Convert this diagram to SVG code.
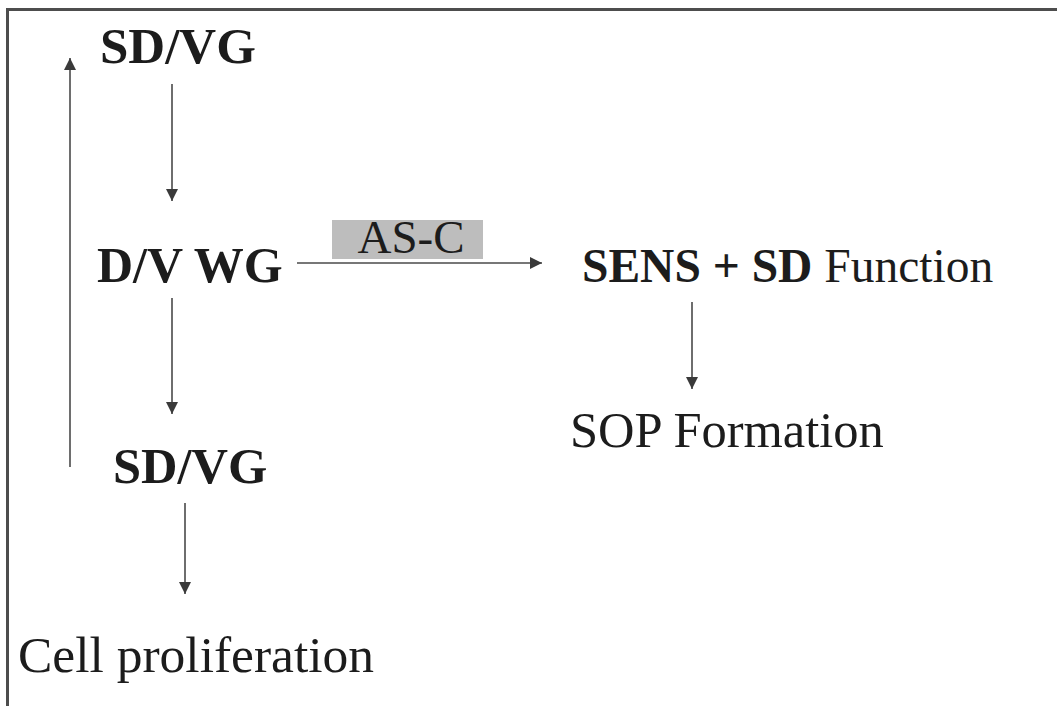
<svg xmlns="http://www.w3.org/2000/svg" width="1057" height="706" viewBox="0 0 1057 706">
  <style>
    .b { font-weight: bold; }
    .ink { fill: #1c1c1c; }
    .edge { stroke: #4a4a4a; stroke-width: 1.6; fill: none; }
    .frame { stroke: #4d4d4d; stroke-width: 3; fill: none; }
  </style>
  <defs>
    <marker id="ah" viewBox="0 0 12 16" refX="12" refY="8" markerWidth="12" markerHeight="16" markerUnits="userSpaceOnUse" orient="auto">
      <path d="M0,2 L12,8 L0,14 z" fill="#3a3a3a"/>
    </marker>
  </defs>

  <rect width="1057" height="706" fill="#ffffff"/>

  <!-- outer frame: top and left edges -->
  <path class="frame" d="M7.5,706 L7.5,9.5 L1057,9.5"/>

  <!-- connectors -->
  <g id="connectors">
    <line class="edge" x1="70" y1="467" x2="70" y2="58" marker-end="url(#ah)"/>
    <line class="edge" x1="172" y1="84" x2="172" y2="201" marker-end="url(#ah)"/>
    <line class="edge" x1="172" y1="298" x2="172" y2="414" marker-end="url(#ah)"/>
    <line class="edge" x1="185" y1="503" x2="185" y2="594" marker-end="url(#ah)"/>
    <line class="edge" x1="692" y1="302" x2="692" y2="389" marker-end="url(#ah)"/>
    <rect id="asc-box" x="332" y="220" width="151" height="39" fill="#bdbdbd"/>
    <line class="edge" x1="297" y1="263" x2="542" y2="263" marker-end="url(#ah)"/>
    <text class="ink" x="411" y="253" font-size="47" text-anchor="middle" font-family="Liberation Serif">AS-C</text>
  </g>

  <g id="sdvg-top">
    <text class="ink b" x="100" y="63" font-size="51" font-family="Liberation Serif">SD/VG</text>
  </g>
  <g id="dv-wg">
    <text class="ink b" x="97" y="282" font-size="50" font-family="Liberation Serif">D/V WG</text>
  </g>
  <g id="sdvg-bottom">
    <text class="ink b" x="113" y="483" font-size="50.5" font-family="Liberation Serif">SD/VG</text>
  </g>
  <g id="cell-proliferation">
    <text class="ink" x="18" y="672" font-size="51.5" font-family="Liberation Serif">Cell proliferation</text>
  </g>
  <g id="sens-sd">
    <text class="ink" x="582" y="282" font-size="47.5" font-family="Liberation Serif"><tspan class="b">SENS + SD</tspan> Function</text>
  </g>
  <g id="sop-formation">
    <text class="ink" x="570" y="447" font-size="50.5" font-family="Liberation Serif">SOP Formation</text>
  </g>
</svg>
